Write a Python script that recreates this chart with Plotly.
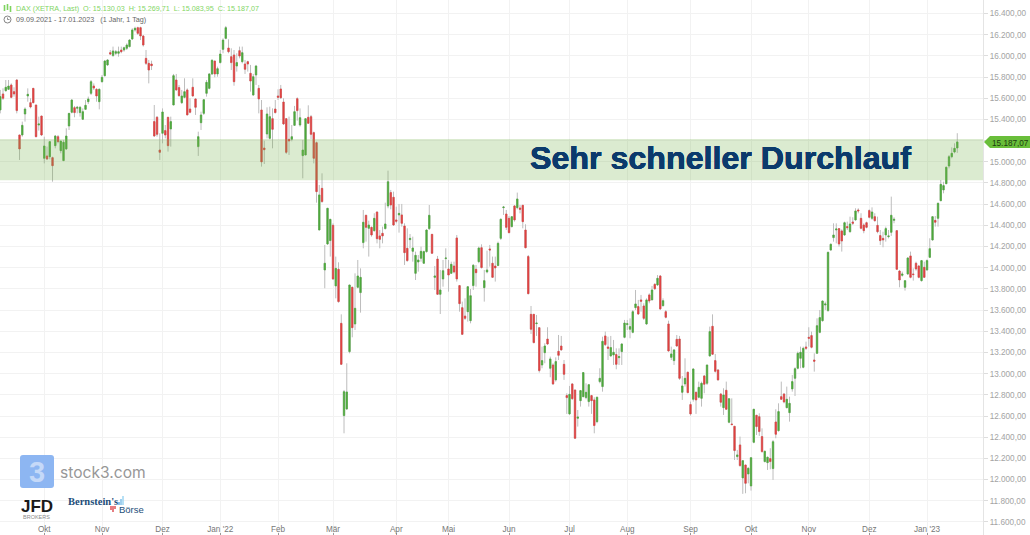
import pandas as pd
import plotly.graph_objects as go

# DAX daily candles, 09.09.2021 - 17.01.2023
holidays = ["2021-12-24", "2021-12-31", "2022-04-15", "2022-04-18", "2022-12-26"]
dates = [d.strftime("%Y-%m-%d") for d in pd.bdate_range("2021-09-09", "2023-01-17")
         if d.strftime("%Y-%m-%d") not in holidays]

opens = [
    15489,15640,15671,15684,15725,15662,15772,15253,15253,15451,
    15621,15558,15693,15536,15347,15432,15033,15055,15048,15039,
    15152,15237,15105,15011,15121,15338,15467,15511,15505,15464,
    15401,15495,15567,15646,15715,15684,15567,15756,15813,15914,
    16030,16002,16024,16024,16055,16055,16071,16087,16159,16244,
    16266,16266,16187,15976,15929,15923,15379,15420,15111,15269,
    15294,15420,15310,15536,15772,15700,15558,15608,15678,15498,
    15703,15593,15143,15369,15457,15646,15693,15829,15951,15829,
    15936,16061,16165,16074,15992,16008,15904,16049,15945,15923,
    15945,15835,15630,15819,15693,15489,15130,15262,15221,15407,
    15498,15621,15687,15564,15407,15212,15212,15344,15596,15347,
    15058,15064,15420,15426,15275,15180,14356,14749,13979,14224,
    14256,14400,13828,13985,13475,12604,12667,13208,13815,13469,
    13815,13765,14237,14495,14372,14381,14350,14526,14300,14325,
    14369,14583,14709,14665,14451,14498,14498,14394,14183,14265,
    14155,13947,14054,14089,14042,14152,14369,14315,13909,14082,
    13749,13894,14086,13988,13947,14016,14281,13831,13623,13544,
    13585,13500,13831,13985,14057,14189,13812,13960,14177,14042,
    14016,14020,14277,14567,14507,14466,14388,14583,14567,14564,
    14589,14356,14105,13560,13560,13472,13434,13082,13198,13327,
    13051,13082,12941,13211,13261,13088,12793,12620,12903,12846,
    12579,12745,12783,12774,12736,12793,12752,12547,12925,12878,
    13356,13252,13167,13176,13180,13151,13208,13343,13463,13419,
    13390,13623,13633,13696,13639,13469,13743,13696,13843,13837,
    13922,13642,13585,13469,13154,13123,13324,13327,12824,12903,
    13013,12708,12758,12824,12777,12767,12978,12909,13167,13447,
    13123,13035,12808,12679,12843,12541,12525,12503,12217,12327,
    12016,12138,12053,11940,12352,12607,12594,12406,12170,12160,
    12198,12104,12544,12462,12783,12808,12679,12632,12856,12956,
    13051,13145,13060,13252,13343,13359,13129,13192,13390,13500,
    13648,13595,14167,14284,14356,14369,14347,14309,14388,14340,
    14432,14451,14545,14466,14403,14425,14539,14466,14482,14400,
    14303,14277,14309,14293,14334,14447,14350,13969,13928,13815,
    13941,14111,13941,14042,14016,13878,14004,13979,14098,14262,
    14447,14466,14633,14734,14793,14960,15048,15092,15130.03,
]
highs = [
    15678,15693,15772,15772,15740,15703,15778,15253,15379,15514,
    15693,15599,15693,15536,15426,15432,15237,15143,15190,15048,
    15253,15253,15196,15206,15316,15457,15589,15527,15527,15527,
    15504,15583,15615,15772,15740,15693,15693,15819,15961,15967,
    16055,16087,16055,16087,16087,16087,16118,16156,16260,16275,
    16275,16275,16197,16055,15961,15954,15536,15432,15269,15504,
    15347,15420,15426,15829,15829,15725,15678,15788,15693,15599,
    15788,15599,15284,15473,15589,15772,15835,15967,15951,15898,
    16055,16165,16282,16156,16071,16055,16024,16087,16087,15961,
    15954,15914,15829,15914,15725,15583,15199,15514,15520,15504,
    15583,15684,15725,15599,15410,15426,15347,15527,15608,15504,
    15206,15410,15533,15442,15284,15190,14781,14891,14215,14561,
    14457,14419,14105,14051,13560,12846,13098,13837,13821,13947,
    14073,13994,14545,14498,14444,14388,14514,14529,14356,14388,
    14614,14916,14734,14718,14576,14602,14602,14419,14372,14318,
    14293,14152,14120,14199,14161,14362,14592,14315,14016,14111,
    13979,14073,14183,14073,14057,14057,14309,13837,13680,13711,
    13821,13799,14035,14026,14199,14221,13979,14161,14215,14105,
    14105,14246,14466,14583,14545,14488,14488,14592,14709,14592,
    14592,14410,14120,13639,13560,13554,13434,13255,13287,13438,
    13161,13098,13154,13365,13356,13129,12815,12884,12909,12846,
    12657,12846,13013,12909,12903,12799,12777,12783,13051,13349,
    13397,13349,13356,13318,13239,13239,13287,13507,13507,13522,
    13601,13790,13696,13743,13664,13711,13758,13828,13853,13931,
    13931,13711,13601,13500,13255,13230,13365,13356,12978,13145,
    13019,12736,13051,12830,12925,12925,12988,13082,13444,13560,
    13186,13041,12815,12862,12925,12767,12767,12506,12280,12406,
    12185,12138,12116,12211,12664,12610,12626,12484,12274,12217,
    12296,12374,12664,12720,12925,12815,12878,12783,12988,13060,
    13208,13255,13255,13302,13438,13397,13192,13522,13601,13689,
    13680,14152,14230,14419,14419,14372,14362,14435,14435,14482,
    14476,14561,14561,14514,14419,14435,14551,14570,14514,14482,
    14356,14340,14388,14356,14671,14476,14356,13979,13963,13884,
    14098,14152,13994,14057,14026,14073,14057,14079,14278,14488,
    14488,14614,14828,14812,14954,15064,15136,15174,15269.71,
]
lows = [
    15457,15583,15662,15678,15599,15615,15457,15017,15237,15379,
    15567,15504,15552,15231,15294,15243,14985,15017,15023,14812,
    15127,15174,15080,15011,15111,15300,15457,15420,15457,15426,
    15394,15489,15545,15630,15678,15567,15495,15747,15803,15904,
    16008,15992,16008,15992,16024,16039,16055,16080,16149,16228,
    16197,16149,16087,15914,15740,15866,15237,15237,15017,15174,
    15221,15096,15143,15536,15671,15615,15545,15599,15442,15457,
    15615,15442,15055,15300,15442,15615,15684,15819,15797,15803,
    15929,16024,16156,16024,15866,15718,15851,15976,15929,15829,
    15851,15662,15624,15725,15457,14954,14979,15221,15212,15127,
    15457,15583,15593,15347,15074,15064,15193,15338,15388,15332,
    14844,15064,15357,15215,14985,14614,14356,14614,13806,14215,
    14105,13884,13711,13670,13082,12437,12657,13192,13343,13412,
    13806,13576,14183,14246,14105,14293,14340,14230,14183,14230,
    14362,14561,14551,14394,14419,14331,14388,14026,14057,14183,
    14057,13884,13963,14057,14035,14142,14356,14130,13790,13743,
    13563,13821,13994,13774,13941,13947,13869,13585,13365,13507,
    13491,13475,13790,13821,14042,13994,13680,13947,14010,13906,
    13869,14016,14262,14498,14356,14325,14381,14435,14551,14513,
    14372,14183,13749,13375,13287,13356,13010,13051,13098,13271,
    12966,12893,12925,13129,13217,12941,12620,12610,12752,12387,
    12500,12689,12777,12758,12689,12620,12437,12532,12909,12830,
    13261,13129,13161,13082,13041,13082,13082,13334,13412,13334,
    13381,13601,13554,13585,13507,13460,13664,13696,13790,13828,
    13601,13633,13522,13208,13129,13082,13255,12941,12752,12878,
    12815,12604,12736,12620,12767,12689,12815,12893,13161,13176,
    13010,12934,12689,12610,12657,12532,12516,12185,12185,12123,
    11865,11871,11965,11896,12343,12421,12412,12255,12163,12091,
    12097,11997,12390,12453,12752,12720,12673,12547,12830,12789,
    13041,13051,13051,13224,13255,13239,13019,13186,13381,13491,
    13601,13585,14161,14246,14230,14199,14152,14300,14356,14331,
    14403,14444,14513,14362,14325,14372,14466,14451,14435,14325,
    14215,14193,14246,14277,14300,14419,13979,13815,13916,13784,
    13931,13900,13878,13972,13900,13869,13903,13972,14092,14256,
    14388,14388,14627,14702,14790,14938,15033,15080,15083.95,
]
closes = [
    15615,15599,15703,15715,15608,15640,15483,15121,15344,15498,
    15637,15517,15558,15237,15357,15253,15149,15026,15190,14963,
    15243,15190,15196,15184,15243,15457,15583,15464,15514,15514,
    15473,15533,15593,15756,15696,15621,15684,15797,15951,15961,
    16017,16046,16039,16039,16039,16077,16102,16149,16244,16260,
    16212,16187,16102,15929,15866,15907,15243,15259,15089,15470,
    15253,15152,15379,15813,15678,15624,15621,15662,15442,15467,
    15621,15514,15237,15442,15586,15750,15829,15958,15829,15879,
    16017,16149,16266,16039,15936,15756,15936,15998,16030,15873,
    15923,15762,15803,15904,15593,14999,15114,15451,15426,15306,
    15464,15608,15605,15357,15089,15196,15237,15473,15483,15416,
    15111,15407,15363,15259,15033,14718,14687,14624,14042,14561,
    14457,13894,13994,13680,13088,12830,12827,13837,13434,13617,
    13922,13909,14429,14381,14403,14309,14466,14274,14268,14300,
    14413,14812,14592,14403,14438,14513,14419,14142,14067,14277,
    14186,14117,14073,14155,14152,14356,14495,14136,13922,13749,
    13790,13972,14092,13931,14032,13960,13894,13661,13371,13522,
    13821,13736,14023,13953,14186,14001,13878,13979,14167,13909,
    13998,14230,14457,14573,14381,14331,14482,14451,14649,14551,
    14435,14189,13755,13419,13293,13478,13029,13123,13261,13280,
    13139,12903,13114,13173,13224,12994,12774,12805,12764,12390,
    12591,12840,13010,12824,12896,12745,12510,12777,12956,13305,
    13274,13239,13246,13202,13088,13161,13280,13478,13472,13444,
    13585,13658,13563,13683,13522,13696,13686,13790,13802,13900,
    13611,13689,13532,13214,13186,13224,13261,12956,12884,12956,
    12821,12620,13044,12752,12871,12909,12900,13082,13397,13183,
    13022,12941,12730,12799,12664,12764,12519,12274,12233,12132,
    12179,11965,12107,12207,12664,12500,12453,12264,12267,12211,
    12170,12358,12428,12642,12758,12733,12758,12720,12925,13047,
    13192,13202,13239,13239,13334,13249,13117,13453,13529,13686,
    13658,14145,14221,14309,14366,14224,14252,14425,14378,14413,
    14419,14536,14536,14372,14350,14381,14476,14526,14444,14340,
    14256,14262,14369,14300,14495,14457,13985,13884,13941,13878,
    14092,13909,13935,13988,13909,14067,13909,14067,14180,14482,
    14429,14608,14787,14775,14948,15048,15080,15127,15187.07,
]

month_dates = ["2021-10-01", "2021-11-01", "2021-12-01", "2022-01-03", "2022-02-01", "2022-03-01",
               "2022-04-01", "2022-05-02", "2022-06-01", "2022-07-01", "2022-08-01", "2022-09-01",
               "2022-10-03", "2022-11-01", "2022-12-01", "2023-01-02"]
month_labels = ["Okt", "Nov", "Dez", "Jan '22", "Feb", "Mär", "Apr", "Mai", "Jun", "Jul", "Aug", "Sep",
                "Okt", "Nov", "Dez", "Jan '23"]
price_ticks = list(range(11600, 16600, 200))
# 15.200,00 sits behind the last price tag
price_labels = ["" if v == 15200 else f"{v // 1000}.{v % 1000:03d},00" for v in price_ticks]
band_low, band_high = 14825, 15215
last_price = closes[-1]

W, H = 1030, 535
PLOT_W = 983
SANS = "Liberation Sans"


def px(x):
    return x / PLOT_W


def py(y):
    return 1 - y / H


fig = go.Figure()

# wicks
fig.add_trace(go.Candlestick(
    x=dates, open=opens, high=highs, low=lows, close=closes,
    increasing=dict(line=dict(color="#bdbdbd", width=1), fillcolor="#bdbdbd"),
    decreasing=dict(line=dict(color="#bdbdbd", width=1), fillcolor="#bdbdbd"),
    whiskerwidth=0, showlegend=False, hoverinfo="skip",
))
# bodies on top, same open/close without the wick part
fig.add_trace(go.Candlestick(
    x=dates, open=opens, close=closes,
    high=[max(o, c) for o, c in zip(opens, closes)],
    low=[min(o, c) for o, c in zip(opens, closes)],
    increasing=dict(line=dict(color="#4ca93a", width=0.6), fillcolor="#4ca93a"),
    decreasing=dict(line=dict(color="#e0403f", width=0.6), fillcolor="#e0403f"),
    whiskerwidth=0, showlegend=False, hoverinfo="skip",
))

shapes = [
    # resistance band
    dict(type="rect", xref="paper", yref="y", x0=0, x1=1, y0=band_low, y1=band_high,
         fillcolor="rgba(120,180,80,0.267)", line_width=0, layer="above"),
    # last price tag
    dict(type="path", xref="paper", yref="y", xsizemode="pixel", ysizemode="pixel",
         xanchor=1, yanchor=last_price, path="M 1 0 L 7 -6 L 47 -6 L 47 6 L 7 6 Z",
         fillcolor="#69be3a", line_width=0, layer="above"),
    # stock3 logo
    dict(type="path", xref="paper", yref="paper",
         path=f"M {px(23)} {py(455)} L {px(51)} {py(455)} Q {px(54)} {py(455)} {px(54)} {py(458)} "
              f"L {px(54)} {py(485)} Q {px(54)} {py(488)} {px(51)} {py(488)} L {px(23)} {py(488)} "
              f"Q {px(20)} {py(488)} {px(20)} {py(485)} L {px(20)} {py(458)} Q {px(20)} {py(455)} {px(23)} {py(455)} Z",
         fillcolor="#8db6f2", line_width=0, layer="above"),
    # clock icon
    dict(type="circle", xref="paper", yref="paper", x0=px(4), x1=px(11), y0=py(23), y1=py(16),
         line=dict(color="#666666", width=0.8), layer="above"),
    dict(type="path", xref="paper", yref="paper",
         path=f"M {px(7.5)} {py(17.5)} L {px(7.5)} {py(19.5)} L {px(9.5)} {py(19.5)}",
         line=dict(color="#666666", width=0.7), layer="above"),
]
# candle icon in the legend line and the little Bernstein bars
for x0, y0, y1 in [(4.5, 5, 11), (7.5, 4, 10), (10.5, 6, 12)]:
    shapes.append(dict(type="line", xref="paper", yref="paper", x0=px(x0), x1=px(x0), y0=py(y0), y1=py(y1),
                       line=dict(color="#7ed35f", width=1.6), layer="above"))
for x0, y0, y1, col in [(119, 505, 502, "#4d9bd6"), (121, 505, 499, "#6fb7e6"), (123, 505, 496, "#8fd0f0"),
                        (111, 506, 510, "#d9363e"), (113, 506, 512, "#d9363e"), (115, 506, 509, "#d9363e")]:
    shapes.append(dict(type="line", xref="paper", yref="paper", x0=px(x0), x1=px(x0), y0=py(y0), y1=py(y1),
                       line=dict(color=col, width=1.3), layer="above"))


def note(text, x, y, size, color, anchor="left", family=SANS, **font_kw):
    return dict(text=text, xref="paper", yref="paper", x=px(x), y=py(y), xanchor=anchor, yanchor="middle",
                showarrow=False, borderpad=0, font=dict(family=family, size=size, color=color, **font_kw))


legend_text = ("DAX (XETRA, Last)\u00a0\u00a0O: 15.130,03\u00a0\u00a0H: 15.269,71"
               "\u00a0\u00a0L: 15.083,95\u00a0\u00a0C: 15.187,07")
heavy = "0.3px 0 #0b3a6c, -0.3px 0 #0b3a6c, 0 0.3px #0b3a6c, 0 -0.3px #0b3a6c"
annotations = [
    note("Sehr schneller Durchlauf", 720.5, 157.5, 32.2, "#0b3a6c", anchor="center", weight=700, shadow=heavy),
    note(legend_text, 15, 8.5, 7.2, "#82d564"),
    note("09.09.2021 - 17.01.2023\u00a0\u00a0\u00a0(1 Jahr, 1 Tag)", 15, 19.5, 7.2, "#666666"),
    note("15.187,07", 990.5, 143, 8.2, "#1c3b0f"),
    note("3", 37, 471.5, 29, "#c5d9f8", anchor="center", weight=700),
    note("stock3.com", 58.5, 472, 15.6, "#979797", family="Inter"),
    note("JFD", 36.5, 506.5, 17, "#1a1a1a", anchor="center", weight=700),
    note("BROKERS", 36.5, 516.5, 5.5, "#8a8a8a", anchor="center"),
    note("Bernstein's", 66.5, 501, 10.5, "#1d4e79", family="Liberation Serif", weight=700),
    note("Börse", 118, 509.5, 9.5, "#1d4e79"),
]

fig.update_layout(
    width=W, height=H,
    margin=dict(l=0, r=W - PLOT_W, t=0, b=0),
    paper_bgcolor="white", plot_bgcolor="white",
    showlegend=False,
    shapes=shapes, annotations=annotations,
    font=dict(family=SANS),
    xaxis=dict(
        type="category", categoryorder="array", categoryarray=dates,
        range=[-0.1, PLOT_W / 2.75 - 0.1],
        rangeslider=dict(visible=False),
        tickmode="array", tickvals=month_dates, ticktext=month_labels,
        ticklabelposition="inside", ticks="inside", ticklen=2, tickcolor="#999999",
        ticklabelstandoff=-2,
        tickfont=dict(size=8.2, color="#777777"),
        showgrid=True, gridcolor="#f2f2f2", gridwidth=1, zeroline=False, showline=False,
    ),
    yaxis=dict(
        side="right", range=[11477, 16527],
        tickmode="array", tickvals=price_ticks, ticktext=price_labels,
        ticks="outside", ticklen=4, tickcolor="#dddddd",
        tickfont=dict(size=8.2, color="#a3a3a3"),
        showgrid=True, gridcolor="#f2f2f2", gridwidth=1, zeroline=False,
        showline=True, linecolor="#e4e4e4", linewidth=1,
    ),
)

# page margin off so the chart sits flush in the window
fig.write_html("out.html", config={"displayModeBar": False},
               post_script="document.body.style.margin='0';document.body.style.overflow='hidden';")
